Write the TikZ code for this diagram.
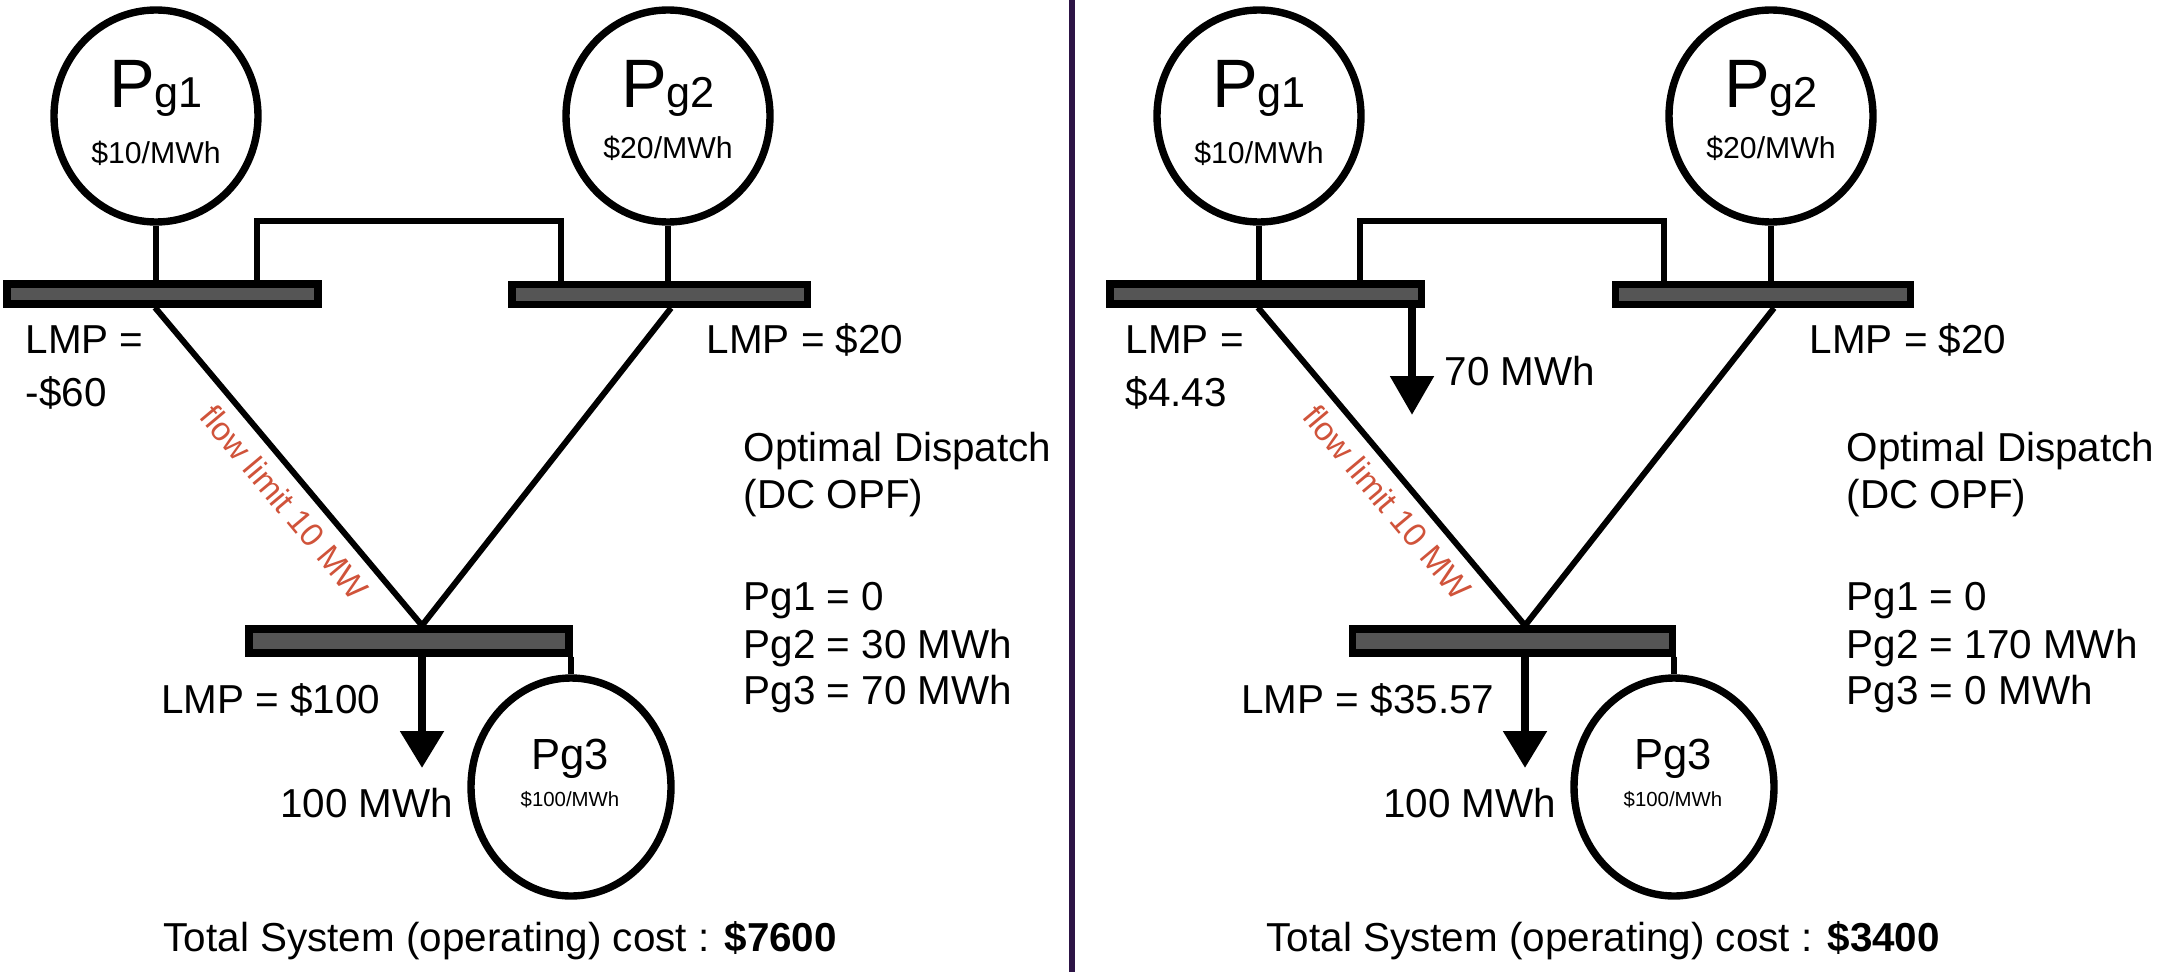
\documentclass[tikz,border=0pt]{standalone}
\usepackage{fontspec}
\setmainfont{Liberation Sans}
\usetikzlibrary{shapes.geometric,arrows.meta}
\definecolor{busgray}{RGB}{85,85,85}
\definecolor{flowred}{RGB}{208,83,58}
\definecolor{divcol}{RGB}{45,20,70}
\newcommand\setfs[1]{\fontsize{#1}{#1}\selectfont}
\tikzset{
  gen/.style={draw, line width=2.1pt, ellipse, inner sep=0pt, minimum width=20.4mm, minimum height=21.2mm},
  bus/.style={draw, fill=busgray, line width=2pt, rectangle, inner sep=0pt},
  wire/.style={line width=1.7pt},
  load/.style={line width=2.4pt, -{Triangle[width=4.2mm,length=3.7mm]}},
  lbl/.style={anchor=base west, inner sep=0pt, font=\setfs{11.5}},
  lblr/.style={anchor=base east, inner sep=0pt, font=\setfs{11.5}},
  gname/.style={anchor=base, inner sep=0pt},
  gcost/.style={anchor=base, inner sep=0pt, font=\setfs{8.6}},
  flowlbl/.style={sloped, below=1.1mm, inner sep=0pt, text=flowred, font=\setfs{9.4}},
}
\newcommand\drawnet{%
  \node[gen] (g1) at (156,116) {};
  \node[gen] (g2) at (668,116) {};
  \node[gen, minimum width=20mm, minimum height=21.8mm] (g3) at (571,787) {};
  \node[bus, minimum width=31.1mm, minimum height=2.0mm] (b1) at (162.5,294) {};
  \node[bus, minimum width=29.5mm, minimum height=2.0mm] (b2) at (659.5,294.5) {};
  \node[bus, minimum width=32mm, minimum height=2.4mm] (b3) at (409,641) {};
  \node[gname] (g1t) at (156,108) {{\setfs{19.5}P}{\setfs{12.3}g1}};
  \node[gcost] (g1c) at (156,163) {\$10/MWh};
  \node[gname] (g2t) at (668,108) {{\setfs{19.5}P}{\setfs{12.3}g2}};
  \node[gcost] (g2c) at (668,159) {\$20/MWh};
  \node[gname, font=\setfs{12.4}] (g3t) at (570,769) {Pg3};
  \node[gname, font=\setfs{5.8}] (g3c) at (570,806) {\$100/MWh};
  \coordinate (l1) at (257,221);
  \coordinate (l2) at (561,221);
  \coordinate (d1) at (155,0);
  \coordinate (d2) at (671,0);
  \coordinate (d3) at (422,0);
  \coordinate (tip3) at (422,768);
  \draw[wire] (g1.south) -- (b1.north -| g1.south);
  \draw[wire] (g2.south) -- (b2.north -| g2.south);
  \draw[wire] (b1.north -| l1) -- (l1) -- (l2) -- (b2.north -| l2);
  \draw[wire] (b1.south -| d1) -- (b3.north -| d3)
     node[flowlbl, pos=0.56] (flow) {flow limit 10 MW};
  \draw[wire] (b2.south -| d2) -- (b3.north -| d3);
  \draw[load] (b3.south -| d3) -- (tip3);
  \draw[wire] (b3.south -| g3.north) -- (g3.north);
  \node[lbl] (lmp2) at (706,353) {LMP = \$20};
  \node[lbl] (od1) at (743,461) {Optimal Dispatch};
  \node[lbl] (od2) at (743,508) {(DC OPF)};
  \node[lbl] (pg1) at (743,610) {Pg1 = 0};
  \node[lblr] (dem) at (454,817) {100 MWh};
}
\begin{document}
\begin{tikzpicture}[x=0.1mm, y=-0.1mm]
  \useasboundingbox[fill=white] (0,0) rectangle (2170,972);
  % left panel
  \begin{scope}[name prefix=L-]
    \drawnet
    \node[lbl] (lmp1a) at (25,353) {LMP =};
    \node[lbl] (lmp1b) at (25,406) {-\$60};
    \node[lblr] (lmp3) at (381,713) {LMP = \$100};
    \node[lbl] (pg2) at (743,658) {Pg2 = 30 MWh};
    \node[lbl] (pg3) at (743,704) {Pg3 = 70 MWh};
    \node[lbl] (tot) at (163,951) {Total System (operating) cost : \textbf{\$7600}};
  \end{scope}
  % divider
  \coordinate (dtop) at (1072,0);
  \coordinate (dbot) at (1072,972);
  \draw[line width=1.8pt, divcol] (dtop) -- (dbot);
  % right panel
  \begin{scope}[xshift=110.3mm, name prefix=R-]
    \drawnet
    \coordinate (d4) at (309,0);
    \coordinate (tip1) at (309,415);
    \draw[load, -{Triangle[width=4.2mm,length=3.9mm]}] (b1.south -| d4) -- (tip1);
    \node[lbl] (ld1) at (341,385) {70 MWh};
    \node[lbl] (lmp1a) at (22,353) {LMP =};
    \node[lbl] (lmp1b) at (22,406) {\$4.43};
    \node[lblr] (lmp3) at (392,713) {LMP = \$35.57};
    \node[lbl] (pg2) at (743,658) {Pg2 = 170 MWh};
    \node[lbl] (pg3) at (743,704) {Pg3 = 0 MWh};
    \node[lbl] (tot) at (163,951) {Total System (operating) cost : \textbf{\$3400}};
  \end{scope}
\end{tikzpicture}
\end{document}
